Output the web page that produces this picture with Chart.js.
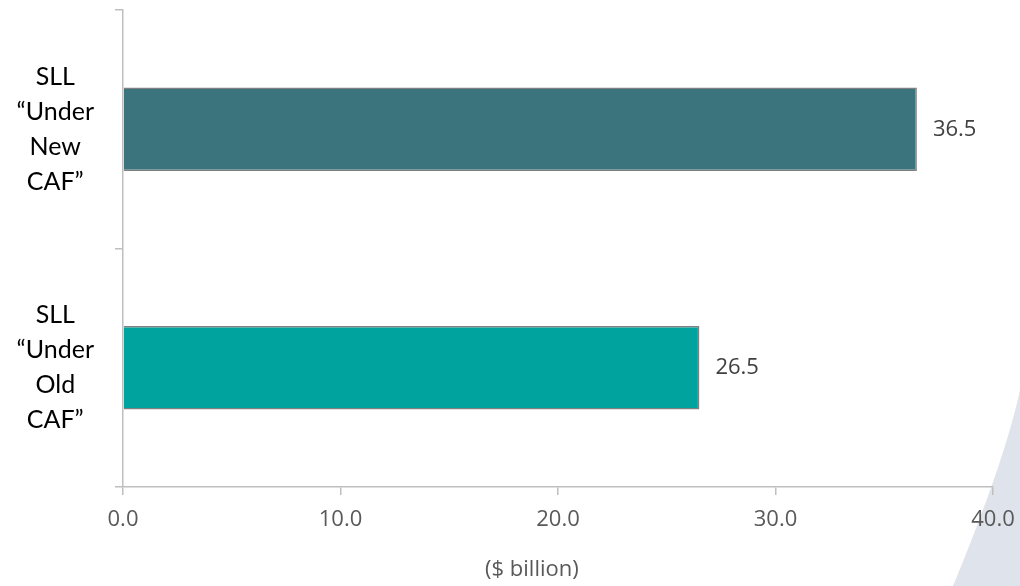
<!DOCTYPE html>
<html>
<head>
<meta charset="utf-8">
<script src="https://cdn.jsdelivr.net/npm/chart.js@4"></script>
<style>
  html, body { margin: 0; padding: 0; background: #fff; }
  #wrap { width: 1020px; height: 586px; position: relative; }
</style>
</head>
<body>
<div id="wrap"><canvas id="sllChart"></canvas></div>
<script>
const categories = [
  ["SLL", "\u201CUnder", "New", "CAF\u201D"],
  ["SLL", "\u201CUnder", "Old", "CAF\u201D"]
];
const sllValues = [36.5, 26.5];
const barColors = ["#3b747c", "#00a39e"];
const xTicks = [0, 10, 20, 30, 40];
const axisTitle = "($ billion)";

// light wedge in the bottom right corner + value labels next to the bars
const extras = {
  id: "extras",
  beforeDraw(chart) {
    const c = chart.ctx;
    c.save();
    c.fillStyle = "#dfe3eb";
    c.beginPath();
    c.moveTo(1020, 390);
    c.quadraticCurveTo(1005, 460, 953, 586);
    c.lineTo(1020, 586);
    c.closePath();
    c.fill();
    c.restore();
  },
  afterDatasetsDraw(chart) {
    const c = chart.ctx;
    const meta = chart.getDatasetMeta(0);
    c.save();
    c.font = "22px 'Open Sans'";
    c.fillStyle = "#404040";
    c.textAlign = "left";
    c.textBaseline = "middle";
    meta.data.forEach(function (bar, i) {
      c.fillText(sllValues[i].toFixed(1), bar.x + 16, bar.y);
    });
    c.restore();
  },
  afterDraw(chart) {
    const c = chart.ctx;
    const a = chart.chartArea;
    c.save();
    c.font = "22px 'Open Sans'";
    c.fillStyle = "#595959";
    c.textAlign = "center";
    c.textBaseline = "middle";
    c.fillText(axisTitle, a.left + a.width * 0.47, 570);
    c.restore();
  }
};

new Chart(document.getElementById("sllChart"), {
  type: "bar",
  data: {
    labels: categories,
    datasets: [
      {
        data: sllValues,
        backgroundColor: barColors,
        borderColor: "#808080",
        borderWidth: 1.5,
        categoryPercentage: 1,
        barPercentage: 0.35
      }
    ]
  },
  options: {
    indexAxis: "y",
    responsive: true,
    maintainAspectRatio: false,
    animation: false,
    layout: { padding: { top: 10, right: 27, left: 0, bottom: 0 } },
    plugins: {
      legend: { display: false },
      tooltip: { enabled: false }
    },
    scales: {
      x: {
        min: 0,
        max: 40,
        afterBuildTicks: function (scale) {
          scale.ticks = xTicks.map(function (v) { return { value: v }; });
        },
        afterFit: function (scale) {
          scale.height = 99;
          scale.paddingLeft = 0;
          scale.paddingRight = 0;
        },
        grid: { drawOnChartArea: false, tickLength: 8, color: "#bfbfbf", lineWidth: 1.5 },
        border: { color: "#bfbfbf", width: 1.5 },
        ticks: {
          padding: 12,
          color: "#595959",
          font: { family: "'Open Sans'", size: 22 },
          maxRotation: 0,
          callback: function (v) { return Number(v).toFixed(1); }
        }
      },
      y: {
        afterFit: function (scale) {
          scale.width = 123;
          scale.paddingTop = 0;
          scale.paddingBottom = 0;
        },
        grid: { drawOnChartArea: false, tickLength: 8, color: "#bfbfbf", lineWidth: 1.5 },
        border: { color: "#bfbfbf", width: 1.5 },
        ticks: {
          crossAlign: "center",
          padding: 21,
          color: "#000",
          font: { family: "Lato", size: 25, lineHeight: 1.4 }
        }
      }
    }
  },
  plugins: [extras]
});
</script>
</body>
</html>
